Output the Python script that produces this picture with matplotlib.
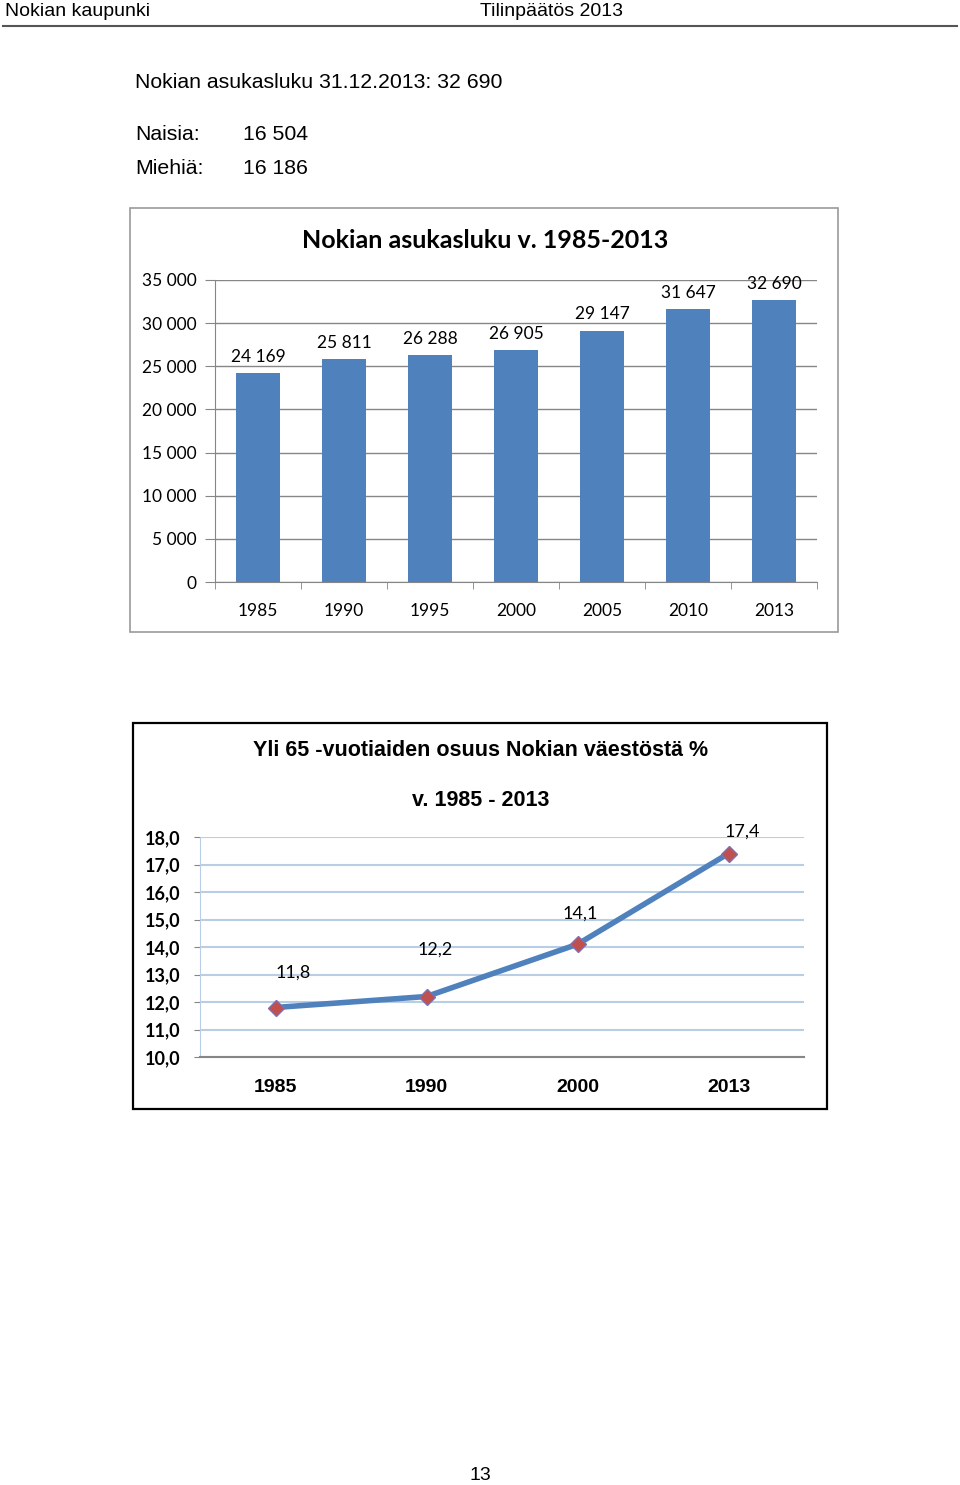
import matplotlib
matplotlib.use("Agg")
import matplotlib.pyplot as plt
from matplotlib.patches import Rectangle
from matplotlib.lines import Line2D

# ---- data ----
pop_years = ["1985", "1990", "1995", "2000", "2005", "2010", "2013"]
pop_values = [24169, 25811, 26288, 26905, 29147, 31647, 32690]
pop_ticks = [0, 5000, 10000, 15000, 20000, 25000, 30000, 35000]

old_years = ["1985", "1990", "2000", "2013"]
old_share = [11.8, 12.2, 14.1, 17.4]
old_ticks = [10.0, 11.0, 12.0, 13.0, 14.0, 15.0, 16.0, 17.0, 18.0]

total_pop = "32 690"
women = "16 504"
men = "16 186"

W, H = 960, 1485
fig = plt.figure(figsize=(W / 100, H / 100), dpi=100)

CAL = ["Lato", "DejaVu Sans"]
NARROW = ["Liberation Sans Narrow", "Liberation Sans", "DejaVu Sans"]
BODY = ["Liberation Sans", "DejaVu Sans"]


def rect(x0, y0, x1, y1):
    return [x0 / W, 1 - y1 / H, (x1 - x0) / W, (y1 - y0) / H]


def ftext(x, y, s, **kw):
    fig.text(x / W, 1 - y / H, s, **kw)


def fmt_thousands(v):
    return f"{int(v):,}".replace(",", " ")


# ---- page header ----
ftext(5, 11, "Nokian kaupunki", fontsize=14, family=NARROW, va="center", ha="left")
ftext(480, 11, "Tilinpäätös 2013", fontsize=14, family=NARROW, va="center", ha="left")
fig.add_artist(Line2D([3 / W, 957 / W], [1 - 26 / H, 1 - 26 / H], color="#555555", lw=1.5))

ftext(135, 82, f"Nokian asukasluku 31.12.2013: {total_pop}", fontsize=15.3, family=BODY, va="center")
ftext(135, 135, "Naisia:", fontsize=15.3, family=BODY, va="center")
ftext(243, 135, women, fontsize=15.3, family=BODY, va="center")
ftext(135, 168, "Miehiä:", fontsize=15.3, family=BODY, va="center")
ftext(243, 168, men, fontsize=15.3, family=BODY, va="center")

# ---- chart 1 frame ----
fig.add_artist(Rectangle((130 / W, 1 - 632 / H), 708 / W, 424 / H, transform=fig.transFigure,
                         fill=False, edgecolor="#9a9a9a", lw=1.2))
ftext(485, 240, "Nokian asukasluku v. 1985-2013", fontsize=18, family=CAL, weight="bold",
      ha="center", va="center")

ax1 = fig.add_axes(rect(215, 280, 817, 582))
x1 = list(range(len(pop_years)))
ax1.bar(x1, pop_values, width=0.52, color="#4f81bd", zorder=3)
ax1.set_xlim(-0.5, len(pop_years) - 0.5)
ax1.set_ylim(0, 35000)
ax1.set_yticks(pop_ticks)
ax1.set_yticklabels([fmt_thousands(t) for t in pop_ticks], fontsize=12.5, family=CAL)
ax1.set_xticks(x1)
ax1.set_xticklabels(pop_years, fontsize=12.5, family=CAL)
ax1.set_xticks([i - 0.5 for i in range(len(pop_years) + 1)], minor=True)
ax1.tick_params(axis="x", which="major", length=0, pad=15)
ax1.tick_params(axis="x", which="minor", length=5, color="#868686")
ax1.tick_params(axis="y", length=7, color="#868686", pad=6)
ax1.grid(axis="y", color="#868686", lw=1, zorder=0)
for s in ["top", "right"]:
    ax1.spines[s].set_visible(False)
for s in ["left", "bottom"]:
    ax1.spines[s].set_color("#868686")
for xi, v in zip(x1, pop_values):
    ax1.annotate(fmt_thousands(v), (xi, v), xytext=(0, 6), textcoords="offset points",
                 ha="center", va="bottom", fontsize=12.5, family=CAL)

# ---- chart 2 frame ----
fig.add_artist(Rectangle((133 / W, 1 - 1109 / H), 694 / W, 386 / H, transform=fig.transFigure,
                         fill=False, edgecolor="#000000", lw=1.6))
ftext(481, 751, "Yli 65 -vuotiaiden osuus Nokian väestöstä %", fontsize=15.5, family=NARROW,
      weight="bold", ha="center", va="center")
ftext(481, 800, "v. 1985 - 2013", fontsize=15.5, family=NARROW, weight="bold",
      ha="center", va="center")

ax2 = fig.add_axes(rect(200, 837, 804, 1057))
x2 = list(range(len(old_years)))
ax2.plot(x2, old_share, color="#4f81bd", lw=4, marker="D", ms=8,
         mfc="#c0504d", mec="#7f6fb0", mew=1, zorder=3, solid_capstyle="round")
ax2.set_xlim(-0.5, len(old_years) - 0.5)
ax2.set_ylim(10, 18)
ax2.set_yticks(old_ticks)
ax2.set_yticklabels([f"{t:.1f}".replace(".", ",") for t in old_ticks], fontsize=13,
                    family=CAL, weight="bold")
ax2.set_xticks(x2)
ax2.set_xticklabels(old_years, fontsize=14, family=NARROW, weight="bold")
ax2.tick_params(axis="x", length=0, pad=16)
ax2.tick_params(axis="y", length=4, color="#868686", pad=10)
ax2.grid(axis="y", color="#b9cde5", lw=1.5, zorder=0)
for s in ["top", "right"]:
    ax2.spines[s].set_visible(False)
ax2.spines["left"].set_color("#b9cde5")
ax2.spines["bottom"].set_color("#868686")
ax2.spines["bottom"].set_linewidth(1.5)
label_offsets = [(13, 25), (6, 34), (2, 22), (10, 16)]
for xi, v, off in zip(x2, old_share, label_offsets):
    ax2.annotate(f"{v:.1f}".replace(".", ","), (xi, v), xytext=off, textcoords="offset points",
                 ha="center", va="center", fontsize=13, family=CAL)

# ---- page number ----
ftext(480, 1475, "13", fontsize=14, family=BODY, ha="center", va="center")

fig.savefig("out.png", dpi=100, facecolor="white")
